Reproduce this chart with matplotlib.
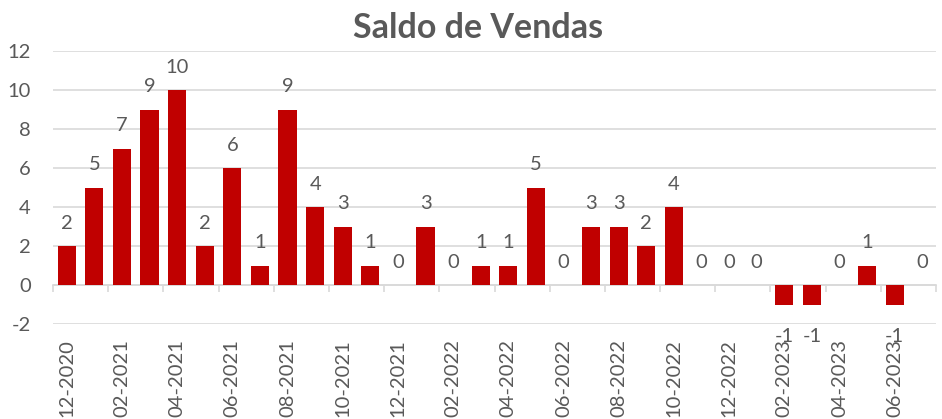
import matplotlib
matplotlib.use("Agg")
import matplotlib.pyplot as plt
from matplotlib.ticker import FixedLocator

months = ["12-2020", "01-2021", "02-2021", "03-2021", "04-2021", "05-2021", "06-2021",
          "07-2021", "08-2021", "09-2021", "10-2021", "11-2021", "12-2021", "01-2022",
          "02-2022", "03-2022", "04-2022", "05-2022", "06-2022", "07-2022", "08-2022",
          "09-2022", "10-2022", "11-2022", "12-2022", "01-2023", "02-2023", "03-2023",
          "04-2023", "05-2023", "06-2023", "07-2023"]
values = [2, 5, 7, 9, 10, 2, 6, 1, 9, 4, 3, 1, 0, 3, 0, 1, 1, 5, 0, 3, 3, 2, 4,
          0, 0, 0, -1, -1, 0, 1, -1, 0]
yticks = [-2, 0, 2, 4, 6, 8, 10, 12]
title = "Saldo de Vendas"

BAR = "#C00000"
GRID = "#D9D9D9"
TXT = "#595959"
FS = 14.5

plt.rcParams["font.family"] = ["Lato", "DejaVu Sans"]

fig = plt.figure(figsize=(9.42, 4.19), dpi=100)
ax = fig.add_axes([53 / 942, 1 - 324 / 419, (936 - 53) / 942, (324 - 51) / 419])

x = list(range(len(values)))
ax.bar(x, values, width=0.66, color=BAR, zorder=3)

ax.set_xlim(-0.5, len(values) - 0.5)
ax.set_ylim(-2, 12)
ax.set_yticks(yticks)
ax.set_yticklabels([str(v) for v in yticks])
ax.yaxis.grid(True, color=GRID, linewidth=1.2, zorder=0)
ax.set_axisbelow(True)

for s in ["left", "right", "top"]:
    ax.spines[s].set_visible(False)
ax.spines["bottom"].set_position(("data", 0))
ax.spines["bottom"].set_color(GRID)
ax.spines["bottom"].set_linewidth(1.2)
ax.spines["bottom"].set_zorder(2)

ax.set_xticks(x[::2])
ax.set_xticklabels(months[::2], rotation=90, va="top", ha="center")
ax.xaxis.set_minor_locator(FixedLocator([i - 0.5 for i in range(0, len(values) + 1, 2)]))
ax.tick_params(axis="x", which="major", length=0, pad=39, labelsize=FS, labelcolor=TXT)
ax.tick_params(axis="x", which="minor", length=5, width=1.2, color=GRID, direction="out")
ax.tick_params(axis="y", length=0, pad=16, labelsize=FS, labelcolor=TXT)

for xi, v in zip(x, values):
    if v >= 0:
        ax.annotate(str(v), (xi, v), xytext=(0, 17.5), textcoords="offset pixels",
                    ha="center", va="baseline", fontsize=FS, color=TXT, zorder=5)
    else:
        ax.annotate(str(v), (xi, v), xytext=(0, -37), textcoords="offset pixels",
                    ha="center", va="baseline", fontsize=FS, color=TXT, zorder=5)

fig.text(478 / 942, 1 - 28 / 419, title, ha="center", va="center",
         fontsize=24.5, fontweight="bold", color=TXT)

fig.savefig("out.png", dpi=100)
